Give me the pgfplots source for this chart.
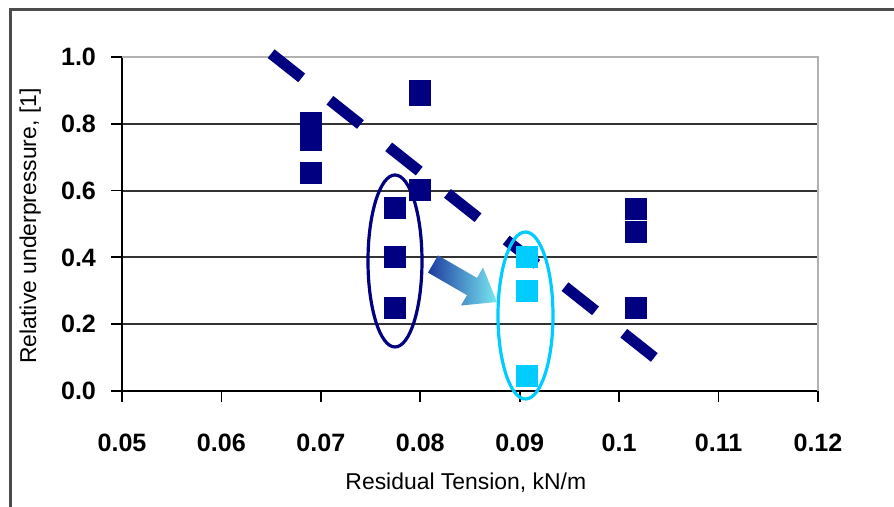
\documentclass[border=0pt]{standalone}
\usepackage{pgfplots}
\pgfplotsset{compat=1.18}
\usepackage{fontspec}
\setmainfont{Liberation Sans}
\definecolor{navy}{RGB}{0,0,128}
\definecolor{sky}{RGB}{0,204,255}
\definecolor{arrowdark}{RGB}{30,60,160}
\definecolor{arrowlight}{RGB}{120,232,242}
\begin{document}
\begin{tikzpicture}
\path[use as bounding box] (0bp,0bp) rectangle (447bp,253.5bp);
\begin{axis}[
  at={(61bp,58bp)}, anchor=south west,
  scale only axis, width=348bp, height=167bp,
  xmin=0.05, xmax=0.12, ymin=0, ymax=1,
  clip=false,
  axis x line*=bottom, axis y line*=left,
  axis line style={black, line width=1bp},
  xtick={0.05,0.06,0.07,0.08,0.09,0.10,0.11,0.12},
  xticklabels={0.05,0.06,0.07,0.08,0.09,0.1,0.11,0.12},
  ytick={0,0.2,0.4,0.6,0.8,1.0},
  yticklabels={0.0,0.2,0.4,0.6,0.8,1.0},
  scaled x ticks=false, scaled y ticks=false,
  tick align=outside,
  major tick length=5.5bp,
  tick style={black, line width=0.9bp},
  ymajorgrids,
  grid style={black!80, line width=1bp},
  ticklabel style={font=\bfseries\fontsize{12.6}{14}\selectfont},
  xticklabel style={yshift=-12.5bp},
  yticklabel style={xshift=-4bp},
  xlabel={Residual Tension, kN/m},
  ylabel={Relative underpressure, [1]},
  xlabel style={at={(axis description cs:0.494,-0.275)}, anchor=center, font=\fontsize{11.5}{13}\selectfont},
  ylabel style={at={(axis description cs:-0.132,0.494)}, anchor=center, font=\fontsize{11.5}{13}\selectfont},
]
\draw[gray!60, line width=1.2bp] (rel axis cs:0,1) -- (rel axis cs:1,1) -- (rel axis cs:1,0);
\addplot[only marks, mark=square*, mark size=5.25bp, navy, mark options={draw=navy, line width=0pt}]
  coordinates {(0.069,0.802) (0.069,0.751) (0.069,0.653)
               (0.0775,0.548) (0.0775,0.40) (0.0775,0.249)
               (0.080,0.898) (0.080,0.886) (0.080,0.602)
               (0.1017,0.545) (0.1017,0.476) (0.1017,0.249)};
\addplot[only marks, mark=square*, mark size=5.25bp, sky, mark options={draw=sky, line width=0pt}]
  coordinates {(0.0907,0.40) (0.0907,0.30) (0.0907,0.045)};
\addplot[navy, line width=5.5bp, dash pattern=on 19.5bp off 18bp]
  coordinates {(0.0650,1.010) (0.1036,0.099)};
\end{axis}
\begin{scope}[shift={(0bp,253.5bp)}, x=0.5bp, y=-0.5bp]
  \draw[navy, line width=1.6bp] (395,261) ellipse [x radius=27, y radius=86];
  \draw[sky, line width=1.6bp] (525.5,315.5) ellipse [x radius=27.5, y radius=83.5];
  \shade[left color=arrowdark, right color=arrowlight]
    (438,255.4) -- (477,277.9) -- (483,267.5) -- (497,302) -- (461,305.5) -- (467,295.2) -- (428,272.6) -- cycle;
\end{scope}
\draw[black!70, line width=1.5bp] (5bp,-2bp) -- (5bp,248.5bp) -- (450bp,248.5bp);
\end{tikzpicture}
\end{document}
